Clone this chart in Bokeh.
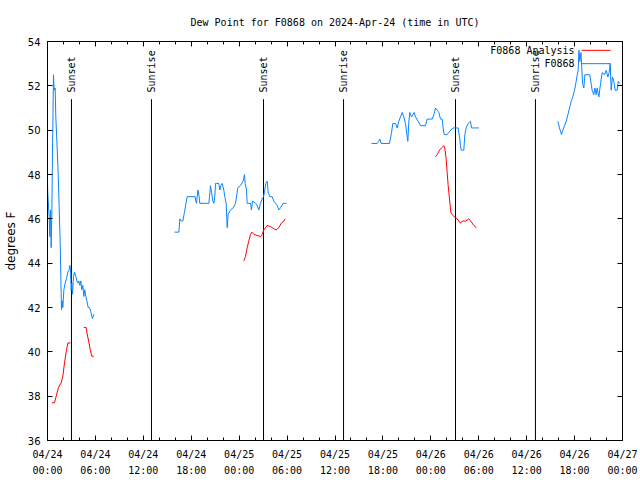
import numpy as np
from bokeh.plotting import figure
from bokeh.models import FixedTicker, LinearAxis, Range1d, CustomJSTickFormatter
from bokeh.core.properties import value
from bokeh.embed import file_html
from bokeh.resources import INLINE

# ---------------- data (hours since 2024-04-24 00:00 UTC, degrees F) ----------------
obs1_t = [0.0, 0.04, 0.21, 0.29, 0.38, 0.46, 0.54, 0.63, 0.75, 0.83, 0.96, 1.04, 1.21, 1.34,
          1.46, 1.59, 1.67, 1.75, 1.84, 1.92, 2.05, 2.21, 2.38, 2.55, 2.71, 2.8, 2.88, 2.96,
          3.05, 3.13, 3.26, 3.38, 3.55, 3.67, 3.8, 3.92, 4.05, 4.17, 4.3, 4.42, 4.55, 4.67,
          4.8, 4.93, 5.09, 5.26, 5.43, 5.55, 5.63, 5.72, 5.8]
obs1_v = [47.6, 47.1, 46.1, 45.2, 46.4, 44.7, 46.2, 49.2, 52.5, 51.8, 51.9, 50.6, 49.2, 48.0,
          46.5, 44.9, 43.4, 41.9, 42.3, 42.0, 42.8, 43.1, 43.3, 43.6, 43.7, 43.9, 43.7, 42.8,
          43.1, 42.6, 43.4, 43.6, 43.4, 43.2, 43.1, 43.2, 43.0, 43.2, 42.8, 43.0, 42.5, 42.8,
          42.5, 42.3, 42.0, 42.0, 41.8, 41.6, 41.5, 41.6, 41.7]

obs2_t = [15.9, 16.45, 16.57, 16.74, 16.95, 17.15, 17.49, 18.49, 18.57, 18.66, 18.83, 18.99,
          19.07, 20.2, 20.29, 20.41, 20.54, 20.7, 20.83, 20.95, 21.04, 21.45, 21.58, 21.7,
          21.87, 22.08, 22.2, 22.37, 22.5, 22.62, 22.92, 23.25, 23.54, 23.71, 23.83, 24.17,
          24.5, 24.67, 24.75, 24.92, 25.0, 25.42, 25.54, 25.67, 26.05, 26.25, 26.46, 26.67,
          26.88, 27.05, 27.17, 27.34, 27.51, 27.63, 27.84, 28.13, 28.34, 28.55, 28.76, 28.97,
          29.18, 29.51, 29.93]
obs2_v = [45.4, 45.4, 46.0, 45.9, 45.9, 46.3, 47.0, 47.0, 46.8, 46.7, 47.3, 47.0,
          46.7, 46.7, 47.0, 47.5, 47.2, 46.8, 46.7, 47.0, 47.6, 47.6, 47.3, 47.5,
          47.6, 47.3, 47.0, 46.7, 45.6, 46.2, 46.4, 46.5, 46.7, 47.1, 47.4, 47.5,
          47.7, 48.0, 47.6, 47.3, 46.7, 46.7, 46.4, 46.8, 46.7, 46.6, 46.4, 46.7,
          46.9, 47.0, 47.2, 47.6, 47.7, 47.2, 47.0, 47.0, 46.8, 46.7, 46.6, 46.4,
          46.5, 46.7, 46.7]

obs3_t = [40.57, 41.28, 41.49, 41.62, 41.78, 42.82, 43.08, 43.24, 43.58, 43.79, 43.99, 44.2,
          44.41, 44.62, 44.83, 45.04, 45.12, 45.25, 45.37, 45.58, 45.75, 45.91, 46.08, 46.41,
          46.71, 47.33, 47.54, 48.17, 48.38, 48.59, 48.8, 49.0, 49.21, 49.42, 49.54, 49.67,
          50.04, 50.25, 50.76, 51.17, 51.42, 51.63, 51.71, 51.8, 52.13, 52.26, 52.42, 52.67,
          52.97, 53.09, 53.38, 53.59, 54.01]
obs3_v = [49.4, 49.4, 49.5, 49.6, 49.4, 49.4, 49.9, 50.3, 50.3, 50.1, 50.4, 50.6,
          50.8, 50.6, 50.3, 49.7, 49.5, 50.4, 50.8, 50.6, 50.7, 50.8, 50.6, 50.4,
          50.2, 50.2, 50.5, 50.5, 50.7, 51.0, 50.9, 50.8, 50.5, 50.5, 50.1, 49.8,
          49.8, 49.9, 50.1, 50.1, 50.1, 49.6, 49.3, 49.1, 49.1, 49.8, 50.1, 50.3,
          50.4, 50.1, 50.1, 50.1, 50.1]

obs4_t = [63.9, 64.11, 64.36, 64.53, 64.74, 64.95, 65.16, 65.37, 65.57, 65.78, 65.99, 66.2,
          66.33, 66.45, 66.54, 66.66, 66.8, 67.0, 67.16, 67.29, 67.9, 68.2, 68.4, 68.55,
          68.7, 68.83, 69.04, 69.25, 69.46, 69.75, 69.96, 70.17, 70.33, 70.46, 70.58, 70.75,
          70.92, 71.08, 71.33, 71.46, 71.67]
obs4_v = [50.4, 50.1, 49.8, 50.0, 50.2, 50.4, 50.7, 51.0, 51.3, 51.5, 51.8, 52.2,
          52.5, 52.7, 53.6, 53.1, 53.5, 52.1, 51.9, 52.5, 52.5, 51.8, 51.6, 51.9,
          51.6, 51.9, 51.5, 52.1, 52.6, 52.5, 52.7, 52.4, 52.6, 53.0, 51.8, 52.4,
          52.2, 51.8, 51.8, 52.2, 52.1]

ana1_t = [0.54, 0.88, 1.09, 1.38, 1.71, 1.92, 2.13, 2.34, 2.55, 2.88]
ana1_v = [37.7, 37.7, 38.0, 38.4, 38.6, 38.9, 39.5, 40.0, 40.4, 40.4]

ana2_t = [4.55, 4.84, 4.97, 5.2, 5.35, 5.55, 5.8]
ana2_v = [41.1, 41.1, 40.8, 40.4, 40.1, 39.8, 39.8]

ana3_t = [24.58, 24.79, 25.0, 25.21, 25.42, 25.59, 25.84, 26.25, 26.67, 26.88, 27.09, 27.3,
          27.51, 27.92, 28.34, 28.63, 28.97, 29.26, 29.6, 29.76]
ana3_v = [44.1, 44.3, 44.7, 45.0, 45.3, 45.4, 45.3, 45.25, 45.2, 45.3, 45.5, 45.6,
          45.7, 45.65, 45.55, 45.5, 45.6, 45.8, 45.9, 46.0]

ana4_t = [48.59, 48.8, 49.09, 49.34, 49.63, 49.75, 49.92, 50.04, 50.17, 50.34, 50.5, 50.67,
          50.88, 51.3, 51.71, 51.92, 52.34, 52.76, 53.09, 53.38, 53.72]
ana4_v = [48.8, 48.9, 49.1, 49.2, 49.3, 49.2, 48.7, 48.1, 47.5, 46.9, 46.3, 46.2,
          46.1, 46.0, 45.8, 45.9, 45.9, 46.0, 45.85, 45.7, 45.6]

sun_times = [3.0, 13.02, 27.05, 37.07, 51.09, 61.1]
sun_labels = ["Sunset", "Sunrise", "Sunset", "Sunrise", "Sunset", "Sunrise"]

x_ticks = [0, 6, 12, 18, 24, 30, 36, 42, 48, 54, 60, 66, 72]
x_tick_labels = ["04/24\n00:00", "04/24\n06:00", "04/24\n12:00", "04/24\n18:00",
                 "04/25\n00:00", "04/25\n06:00", "04/25\n12:00", "04/25\n18:00",
                 "04/26\n00:00", "04/26\n06:00", "04/26\n12:00", "04/26\n18:00",
                 "04/27\n00:00"]
x_minor = list(range(0, 73, 2))
y_ticks = [36, 38, 40, 42, 44, 46, 48, 50, 52, 54]

obs_name = "F0868"
ana_name = "F0868 Analysis"
title_text = "Dew Point for F0868 on 2024-Apr-24 (time in UTC)"

# ---------------- style ----------------
BLUE = "#0a84ff"
RED = "#ff0000"
MONO = "DejaVu Sans Mono"
SANS = "DejaVu Sans"
SUN_LINE_TOP = 51.4
SUN_TEXT_Y = 51.7
LEG_TEXT_X = 66.0
LEG_X0, LEG_X1 = 66.87, 70.5
LEG_Y = [53.6, 53.0]

p = figure(width=640, height=480,
           x_range=Range1d(0, 72), y_range=Range1d(36, 54),
           output_backend="svg", toolbar_location=None,
           min_border_left=47, min_border_right=18, min_border_top=41, min_border_bottom=40,
           title=title_text)

p.title.text_font = MONO
p.title.text_font_size = "10px"
p.title.text_font_style = "normal"
p.title.text_color = "black"
p.title.align = "center"
p.title.standoff = 28
p.outline_line_color = "black"
p.grid.visible = False
p.background_fill_color = "white"
p.border_fill_color = "white"

xt = FixedTicker(ticks=x_ticks, minor_ticks=x_minor)
yt = FixedTicker(ticks=y_ticks, minor_ticks=[])

for ax in p.xaxis:
    ax.ticker = xt
    ax.major_label_overrides = {t: l for t, l in zip(x_ticks, x_tick_labels)}
    ax.major_label_text_font = MONO
    ax.major_label_text_font_size = "10px"
    ax.major_label_text_line_height = 1.5
    ax.major_label_standoff = 8
for ax in p.yaxis:
    ax.ticker = yt
    ax.major_label_text_font = SANS
    ax.major_label_text_font_size = "10px"
    ax.major_label_standoff = 7
    ax.axis_label = "degrees F"
    ax.axis_label_text_font = SANS
    ax.axis_label_text_font_size = "12px"
    ax.axis_label_text_font_style = "normal"
    ax.axis_label_text_color = "black"
    ax.axis_label_standoff = 7

blank = CustomJSTickFormatter(code="return ''")
p.add_layout(LinearAxis(ticker=yt, formatter=blank, major_label_standoff=0), "right")
p.add_layout(LinearAxis(ticker=xt, formatter=blank, major_label_standoff=0), "above")

for ax in p.axis:
    ax.axis_line_color = "black"
    ax.major_tick_line_color = "black"
    ax.minor_tick_line_color = "black"
    ax.major_tick_in = 5
    ax.major_tick_out = 0
    ax.minor_tick_in = 3
    ax.minor_tick_out = 0
    ax.major_label_text_color = "black"

# sunrise / sunset markers
p.segment(x0=sun_times, y0=[36] * len(sun_times), x1=sun_times,
          y1=[SUN_LINE_TOP] * len(sun_times), line_color="black", line_width=1)
p.text(x=sun_times, y=[SUN_TEXT_Y] * len(sun_times), text=sun_labels, angle=np.pi / 2,
       text_align="left", text_baseline="middle", text_font=value(MONO),
       text_font_size="10px", text_color="black")

# observations
for t, v in [(obs1_t, obs1_v), (obs2_t, obs2_v), (obs3_t, obs3_v), (obs4_t, obs4_v)]:
    p.line(t, v, line_color=BLUE, line_width=1)
# analysis
for t, v in [(ana1_t, ana1_v), (ana2_t, ana2_v), (ana3_t, ana3_v), (ana4_t, ana4_v)]:
    p.line(t, v, line_color=RED, line_width=1)

# legend (label left of sample line)
p.text(x=[LEG_TEXT_X, LEG_TEXT_X], y=LEG_Y, text=[ana_name, obs_name], text_align="right",
       text_baseline="middle", text_font=value(MONO), text_font_size="10px", text_color="black")
p.segment(x0=[LEG_X0] * 2, y0=LEG_Y, x1=[LEG_X1] * 2, y1=LEG_Y,
          line_color=[RED, BLUE], line_width=1)

open("out.html", "w").write(file_html(p, INLINE))
